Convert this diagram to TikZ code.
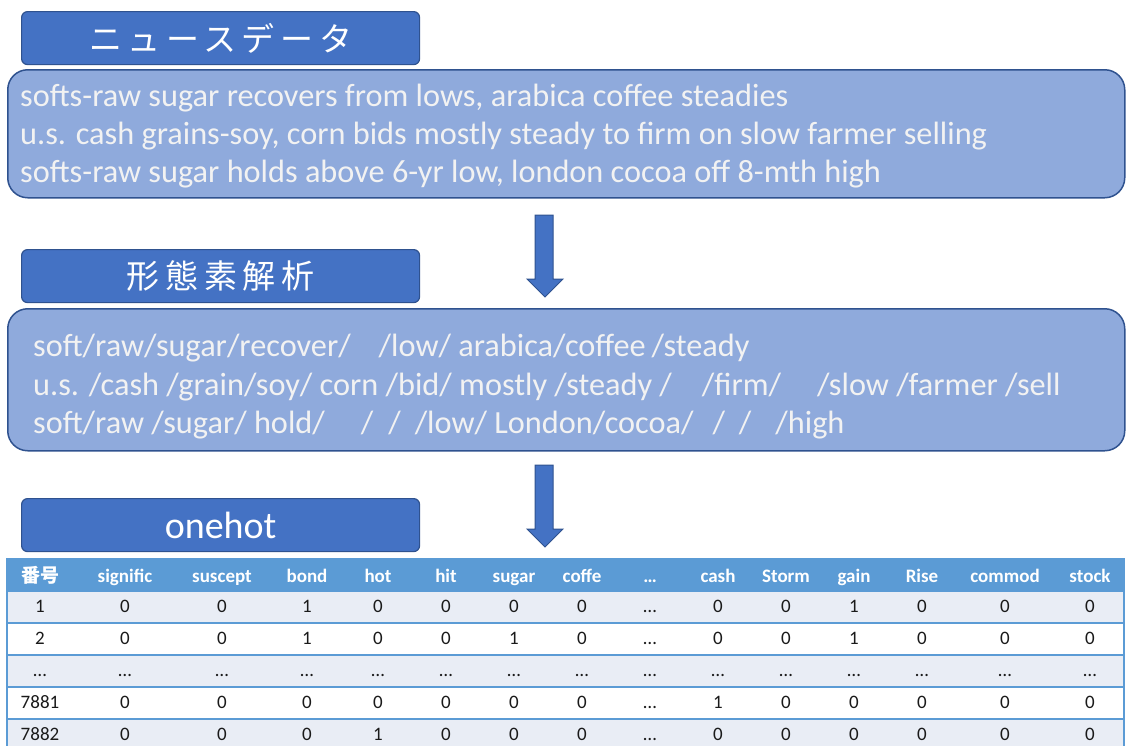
\documentclass[tikz,border=0pt]{standalone}
\usepackage{fontspec}
\setmainfont{Carlito}
\newfontfamily\jp{Noto Sans CJK JP}
\newfontfamily\jpsp{Noto Sans CJK JP}[LetterSpace=17]
\definecolor{titleblue}{HTML}{4472C4}
\definecolor{edgeblue}{HTML}{2F528F}
\definecolor{boxblue}{HTML}{8FAADC}
\definecolor{headblue}{HTML}{5B9BD5}
\definecolor{rowlight}{HTML}{E9EDF5}
\definecolor{softwhite}{HTML}{F2F2F2}
\definecolor{celltext}{HTML}{1A1A1A}
\tikzset{
  titlebox/.style={draw=edgeblue, line width=1.2pt, fill=titleblue, rounded corners=6pt,
    minimum width=398pt, minimum height=53pt, anchor=north west, inner sep=0pt},
  bigbox/.style={draw=edgeblue, line width=1.5pt, fill=boxblue, rounded corners=20pt,
    minimum width=1117pt, anchor=north west, inner sep=0pt},
  bodytext/.style={anchor=base west, text=softwhite, font=\fontsize{32.3}{38}\selectfont, inner sep=0pt},
  titletext/.style={text=white, font=\jpsp\fontsize{33}{38}\selectfont},
  blockarrow/.style={draw=edgeblue, line width=1pt, fill=titleblue},
  headcell/.style={anchor=base, text=white, font=\fontsize{19}{22}\selectfont\bfseries, inner sep=0pt},
  cell/.style={anchor=base, text=celltext, font=\fontsize{19}{22}\selectfont, inner sep=0pt},
}
\begin{document}
\begin{tikzpicture}[x=1pt,y=-1pt]
\useasboundingbox (0,0) rectangle (1126,745);
\clip (0,0) rectangle (1126,745);

% ---- box 1
\node[titlebox] (t1) at (21,11) {};
\node[titletext] (t1txt) at (t1.center) {ニュースデータ};
\node[bigbox, minimum height=128pt] (b1) at (7,69) {};
\node[bodytext] (l11) at (20,106) {softs-raw sugar recovers from lows, arabica coffee steadies};
\node[bodytext] (l12) at (20,144) {u.s. cash grains-soy, corn bids mostly steady to firm on slow farmer selling};
\node[bodytext] (l13) at (20,182) {softs-raw sugar holds above 6-yr low, london cocoa off 8-mth high};

% ---- arrow 1
\draw[blockarrow] (535,215) -- (553,215) -- (553,279) -- (563,279) -- (545,297) -- (527,279) -- (535,279) -- cycle;

% ---- box 2
\node[titlebox] (t2) at (21,249) {};
\node[titletext] (t2txt) at (t2.center) {形態素解析};
\node[bigbox, minimum height=142pt] (b2) at (7,308) {};
\node[bodytext] (l21) at (33,356) {soft/raw/sugar/recover/\hspace{28pt}/low/ arabica/coffee\hspace{6pt}/steady};
\node[bodytext] (l22) at (33,395) {u.s. /cash /grain/soy/ corn /bid/ mostly /steady /\hspace{30pt}/firm/\hspace{36pt}/slow /farmer /sell};
\node[bodytext] (l23) at (33,433) {soft/raw /sugar/ hold/\hspace{36pt}/\hspace{15pt}/\hspace{14pt}/low/ London/cocoa/\hspace{19pt}/\hspace{14pt}/\hspace{24pt}/high};

% ---- arrow 2
\draw[blockarrow] (535,465) -- (553,465) -- (553,529) -- (563,529) -- (545,547) -- (527,529) -- (535,529) -- cycle;

% ---- box 3
\node[titlebox] (t3) at (21,498) {};
\node[text=white, font=\fontsize{38}{42}\selectfont] (t3txt) at (t3.center) {onehot};

% ---- table
\fill[headblue] (7,558) rectangle (1124,591);
\fill[rowlight] (7,591) rectangle (1124,623);
\fill[white] (7,623) rectangle (1124,655);
\fill[rowlight] (7,655) rectangle (1124,687);
\fill[white] (7,687) rectangle (1124,719);
\fill[rowlight] (7,719) rectangle (1124,751);
\foreach \yy in {591,623,655,687,719} {
  \draw[headblue, line width=1.2pt] (7,\yy) -- (1124,\yy);
}
\draw[headblue, line width=1.5pt] (7,558) -- (7,751);
\draw[headblue, line width=1.5pt] (1124,558) -- (1124,751);

\def\colxs{{40,125,222,307,378,446,514,582,650,718,786,854,922,1005,1090}}
\foreach \h [count=\c] in {{\jp\bfseries 番号},signific,suscept,bond,hot,hit,sugar,coffe,…,cash,Storm,gain,Rise,commod,stock} {
  \pgfmathsetmacro\cx{\colxs[\c-1]}
  \node[headcell] (h-\c) at (\cx,582) {\h};
}
\foreach \rowvals [count=\r] in {
  {1,0,0,1,0,0,0,0,…,0,0,1,0,0,0},
  {2,0,0,1,0,0,1,0,…,0,0,1,0,0,0},
  {…,…,…,…,…,…,…,…,…,…,…,…,…,…,…},
  {7881,0,0,0,0,0,0,0,…,1,0,0,0,0,0},
  {7882,0,0,0,1,0,0,0,…,0,0,0,0,0,0}} {
  \foreach \v [count=\c] in \rowvals {
    \pgfmathsetmacro\cx{\colxs[\c-1]}
    \pgfmathsetmacro\cy{612.5+(\r-1)*32}
    \node[cell] (c\r-\c) at (\cx,\cy) {\v};
  }
}
\end{tikzpicture}
\end{document}
